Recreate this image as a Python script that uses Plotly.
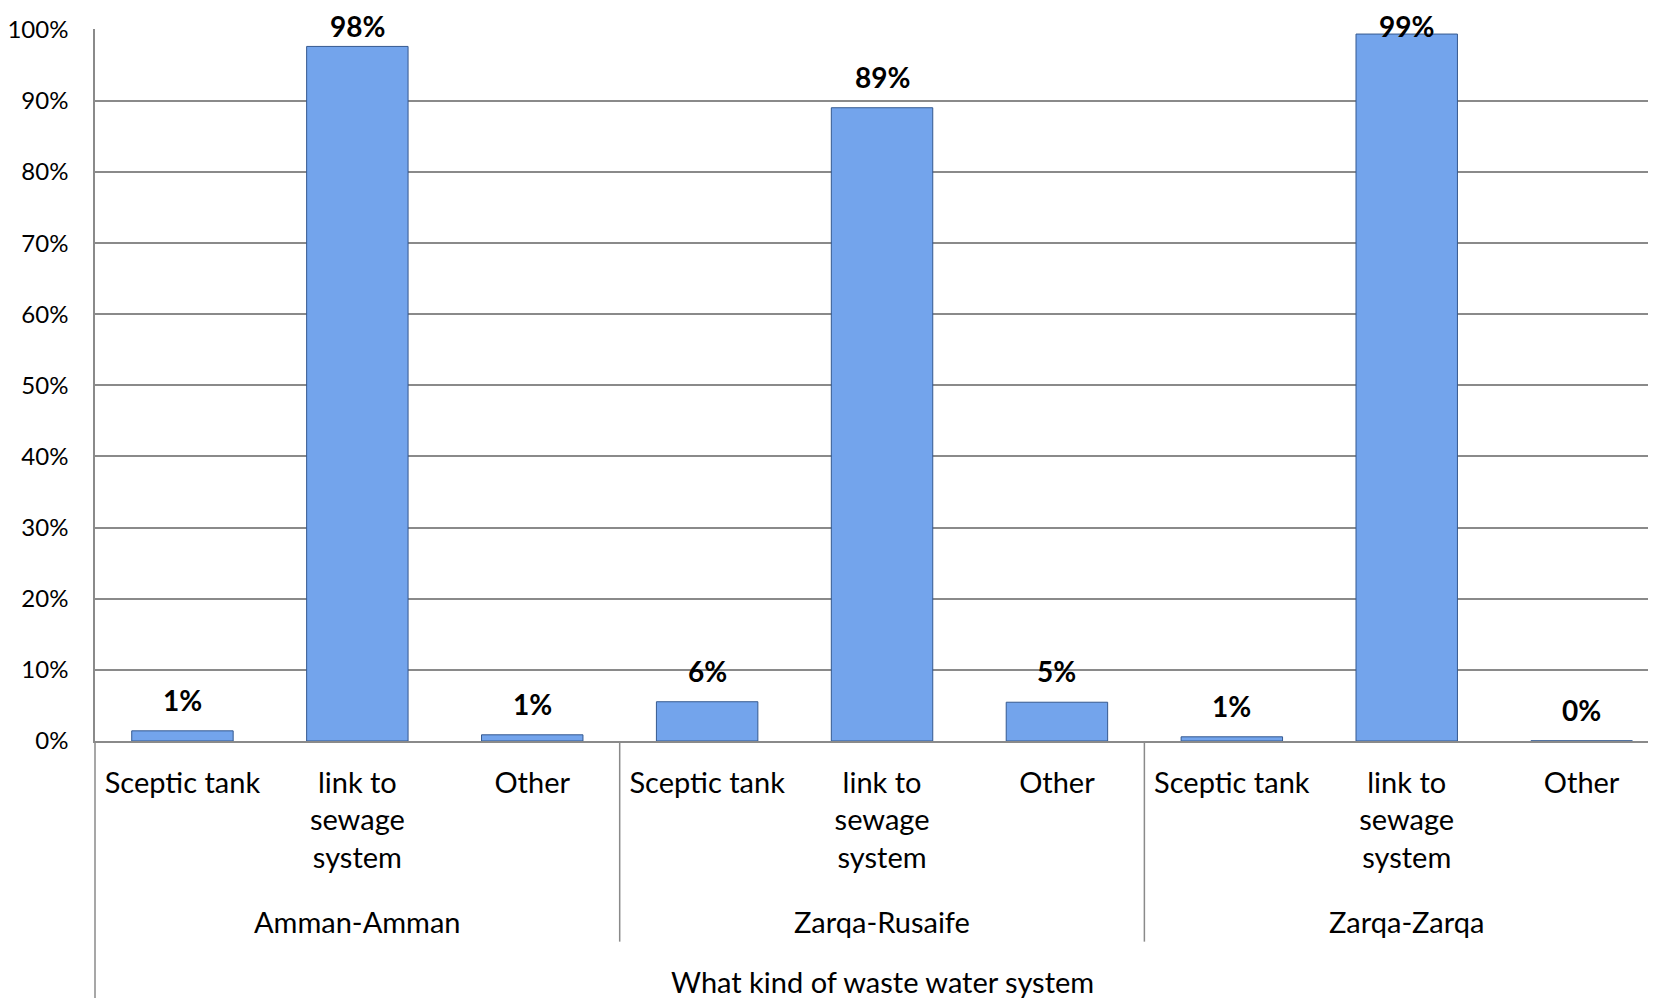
import plotly.graph_objects as go

# ---- data ----
groups = ["Amman-Amman", "Zarqa-Rusaife", "Zarqa-Zarqa"]
type_ticks = ["Sceptic tank", "link to<br>sewage<br>system", "Other"]
amman = [0.0143, 0.9765, 0.0087]
rusaife = [0.0552, 0.8903, 0.0545]
zarqa = [0.0059, 0.9939, 0.0002]
axis_title = "What kind of waste water system"
y_ticks = [0, 0.1, 0.2, 0.3, 0.4, 0.5, 0.6, 0.7, 0.8, 0.9, 1.0]

values = amman + rusaife + zarqa
n = len(values)
xs = list(range(n))
ticktext = type_ticks * len(groups)
labels = [f"{round(v * 100):.0f}%" for v in values]

FONT = "Lato"
GRID = "#8a8a8a"
PLOT_H = 711.5          # plot area height in px (for paper-relative offsets)
LABEL_GAP_PX = 31       # label centre above bar top
LABEL_MAX = 1 + 4 / PLOT_H  # labels are kept inside the chart area

fig = go.Figure(
    go.Bar(
        x=xs,
        y=values,
        width=0.58,
        marker=dict(color="#73a4ec", line=dict(color="#35598f", width=1)),
        hoverinfo="skip",
    )
)

annotations = []
for xi, v, lab in zip(xs, values, labels):
    shift = min(LABEL_GAP_PX, (LABEL_MAX - v) * PLOT_H)
    annotations.append(dict(
        x=xi, y=v, xref="x", yref="y", yshift=shift,
        text=f"<b>{lab}</b>", showarrow=False, yanchor="middle",
        font=dict(family=FONT, size=28, color="#000000"),
    ))

per = len(type_ticks)
for gi, g in enumerate(groups):
    annotations.append(dict(
        x=gi * per + (per - 1) / 2, y=-(921 - 740.5) / PLOT_H, xref="x", yref="paper",
        text=g, showarrow=False, yanchor="middle",
        font=dict(family=FONT, size=29, color="#000000"),
    ))

annotations.append(dict(
    x=(n - 1) / 2, y=-(981 - 740.5) / PLOT_H, xref="x", yref="paper",
    text=axis_title, showarrow=False, yanchor="middle",
    font=dict(family=FONT, size=29, color="#000000"),
))

shapes = []
# left axis extension down to the bottom
shapes.append(dict(type="line", xref="paper", yref="paper", x0=0, x1=0, y0=0, y1=-0.40,
                   line=dict(color=GRID, width=1.5)))
# group dividers
for gi in range(1, len(groups)):
    shapes.append(dict(type="line", xref="x", yref="paper",
                       x0=gi * per - 0.5, x1=gi * per - 0.5,
                       y0=0, y1=-(941 - 740.5) / PLOT_H,
                       line=dict(color=GRID, width=1.5)))

fig.update_layout(
    width=1656, height=998,
    margin=dict(l=87, r=0, t=21, b=265),
    paper_bgcolor="white", plot_bgcolor="white",
    showlegend=False,
    font=dict(family=FONT, color="#000000"),
    annotations=annotations,
    shapes=shapes,
    xaxis=dict(
        range=[-0.5, 8.471],
        tickmode="array", tickvals=xs, ticktext=ticktext,
        tickfont=dict(family=FONT, size=29, color="#000000"),
        showgrid=False, zeroline=False,
        showline=True, linecolor=GRID, linewidth=1.5,
        ticks="", ticklabelstandoff=15,
    ),
    yaxis=dict(
        range=[0, 1.001],
        tickmode="array", tickvals=y_ticks, tickformat=".0%",
        tickfont=dict(family=FONT, size=24, color="#000000"),
        showgrid=True, gridcolor=GRID, gridwidth=1.5,
        zeroline=False,
        showline=True, linecolor=GRID, linewidth=1.5,
        ticks="", ticklabelstandoff=20,
    ),
)

fig.write_html("out.html")
